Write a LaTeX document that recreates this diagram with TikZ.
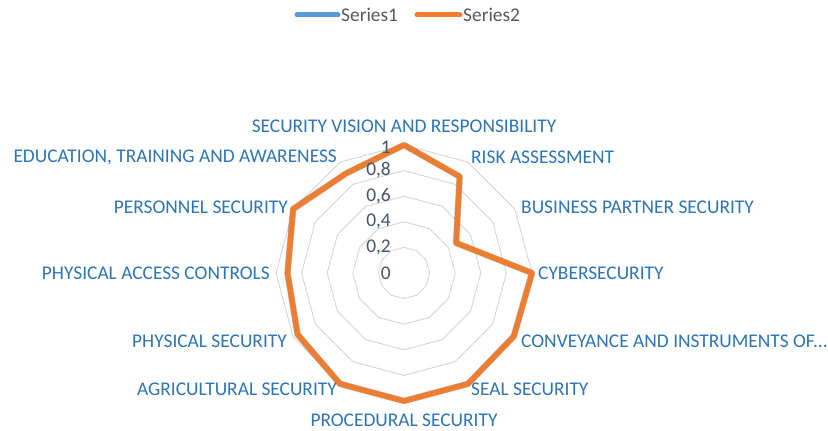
\documentclass[tikz,border=0pt]{standalone}
\usepackage{fontspec}
\setmainfont{Carlito}
\definecolor{serA}{HTML}{5B9BD5}
\definecolor{serB}{HTML}{ED7D31}
\definecolor{lblblue}{HTML}{2E75B6}
\definecolor{ticktxt}{HTML}{44546A}
\definecolor{legtxt}{HTML}{595959}
\definecolor{gridc}{HTML}{D9D9D9}
\begin{document}
\begin{tikzpicture}[x=1pt,y=1pt,
  lbl/.style={text=lblblue,font=\fontsize{19.4}{21}\selectfont,inner sep=0pt},
  tick/.style={text=ticktxt,font=\fontsize{19.4}{21}\selectfont,inner sep=0pt,anchor=east},
  legt/.style={text=legtxt,font=\fontsize{19.4}{21}\selectfont,inner sep=0pt,anchor=west},
  gridline/.style={draw=gridc,line width=1pt},
  serieline/.style={line width=5.5pt,line join=round},
  shadowline/.style={draw=black,opacity=0.22,line width=6.5pt,line join=round},
  legline/.style={line width=5pt,line cap=round}]
\useasboundingbox[fill=white] (0,0) rectangle (828,431);
% grid rings
\begin{scope}[shift={(404,158)}]
\foreach \k in {1,...,5}{
  \draw[gridline] (90:{25.6*\k}) \foreach \i in {1,...,11}{ -- ({90-30*\i}:{25.6*\k}) } -- cycle;
}
% data points
\foreach \v [count=\i from 0] in {1,0.87,0.47,1,0.99,1,1,1,0.96,0.91,1,0.9}{
  \coordinate (p\i) at ({90-30*\i}:{128*\v});
}
\end{scope}
% shadow
\begin{scope}[shift={(1.5,-2.5)}]
\draw[shadowline] (p0)--(p1)--(p2)--(p3)--(p4)--(p5)--(p6)--(p7)--(p8)--(p9)--(p10)--(p11)--cycle;
\end{scope}
% series 2
\draw[serieline,draw=serB] (p0)--(p1)--(p2)--(p3)--(p4)--(p5)--(p6)--(p7)--(p8)--(p9)--(p10)--(p11)--cycle;
% tick labels
\foreach \t [count=\k from 0] in {0,{0,2},{0,4},{0,6},{0,8}}{
  \node[tick] (t\k) at (391,{158+25.6*\k}) {\t};
}
\node[tick] (t5) at (391,283.5) {1};
% category labels
\node[lbl,anchor=center] (c0) at (404,305) {SECURITY VISION AND RESPONSIBILITY};
\node[lbl,anchor=west] (c1) at (471,274) {RISK ASSESSMENT};
\node[lbl,anchor=west] (c2) at (521,224) {BUSINESS PARTNER SECURITY};
\node[lbl,anchor=west] (c3) at (538,158) {CYBERSECURITY};
\node[lbl,anchor=west] (c4) at (521,90) {CONVEYANCE AND INSTRUMENTS OF...};
\node[lbl,anchor=west] (c5) at (471,42) {SEAL SECURITY};
\node[lbl,anchor=center] (c6) at (404,11) {PROCEDURAL SECURITY};
\node[lbl,anchor=east] (c7) at (337,42) {AGRICULTURAL SECURITY};
\node[lbl,anchor=east] (c8) at (287,90) {PHYSICAL SECURITY};
\node[lbl,anchor=east] (c9) at (270,158) {PHYSICAL ACCESS CONTROLS};
\node[lbl,anchor=east] (c10) at (288,224) {PERSONNEL SECURITY};
\node[lbl,anchor=east] (c11) at (337,274) {EDUCATION, TRAINING AND AWARENESS};
% legend
\coordinate (la) at (297,416);
\coordinate (lb) at (338,416);
\draw[legline,draw=serA] (la) -- (lb);
\node[legt] (l1) at (341,416) {Series1};
\coordinate (lc) at (417,416);
\coordinate (ld) at (460,416);
\draw[legline,draw=serB] (lc) -- (ld);
\node[legt] (l2) at (463,416) {Series2};
\end{tikzpicture}
\end{document}
